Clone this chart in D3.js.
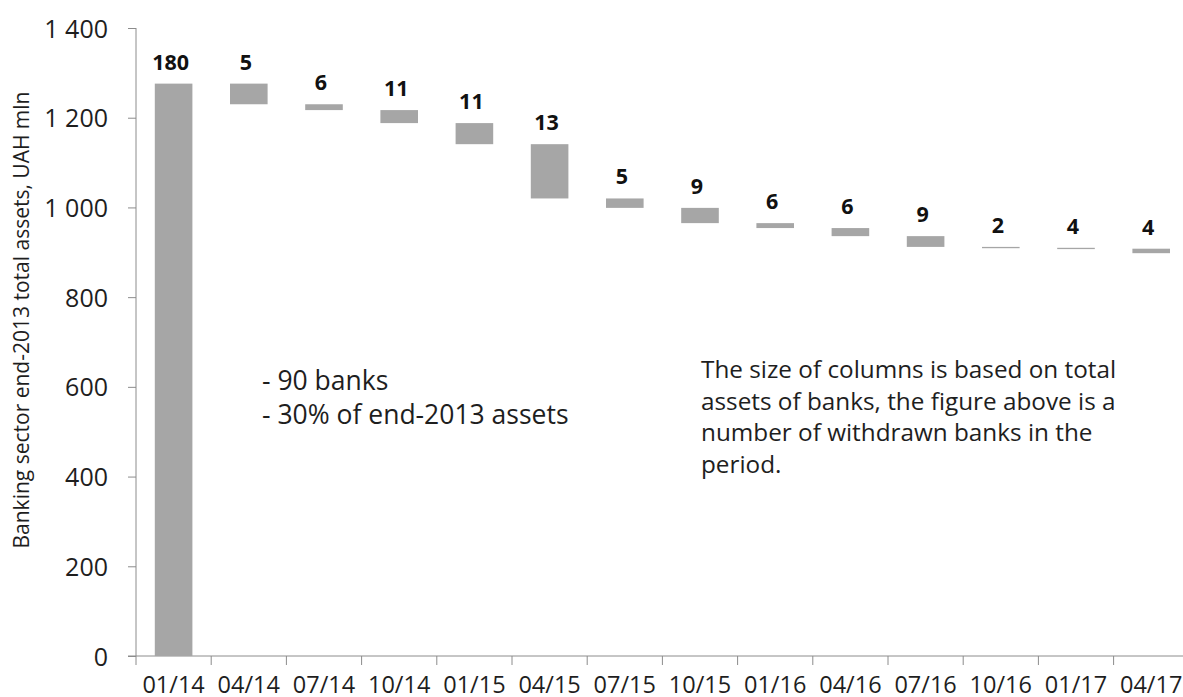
<!DOCTYPE html>
<html>
<head>
<meta charset="utf-8">
<title>Withdrawn banks, 2014-2017</title>
<script src="https://d3js.org/d3.v7.min.js"></script>
<style>
    body { margin: 0; background: #fff; }
    svg text { font-family: "Open Sans", "Noto Sans", sans-serif; fill: #1e1e1e; }
    .axis path, .axis line { stroke: #8c8c8c; }
</style>
</head>
<body>
<div id="chart"></div>
<script>
// quarters
var periods = ["01/14", "04/14", "07/14", "10/14", "01/15", "04/15", "07/15",
               "10/15", "01/16", "04/16", "07/16", "10/16", "01/17", "04/17"];
// assets left after each quarter, UAH mln (first one is the whole drop, from 0)
var assetLevels = [1276, 1230, 1217, 1188, 1141, 1020, 999, 965, 954, 936, 912, 910, 908, 898];
// number of withdrawn banks in the period
var bankCounts = [180, 5, 6, 11, 11, 13, 5, 9, 6, 6, 9, 2, 4, 4];
var yTicks = [0, 200, 400, 600, 800, 1000, 1200, 1400];

var noteLeft = ["- 90 banks", "- 30% of end-2013 assets"];
var noteRight = ["The size of columns is based on total",
                 "assets of banks, the figure above is a",
                 "number of withdrawn banks in the",
                 "period."];

var W = 1183, H = 697;
var plotLeft = 136, plotTop = 28, plotBottom = 656;
var band = 75.2;

var svg = d3.select("#chart").append("svg")
    .attr("width", W)
    .attr("height", H);

var x = d3.scaleBand()
    .domain(periods)
    .range([plotLeft, plotLeft + band * periods.length])
    .paddingInner(0.5)
    .paddingOuter(0.25);

var y = d3.scaleLinear()
    .domain([0, 1400])
    .range([plotBottom, plotTop]);

var bars = periods.map(function (p, i) {
    return {
        p: p,
        from: i == 0 ? 0 : assetLevels[i - 1],
        to: assetLevels[i],
        n: bankCounts[i]
    };
});

// y axis
var yAxis = d3.axisLeft(y)
    .tickValues(yTicks)
    .tickSize(8)
    .tickPadding(20)
    .tickFormat(function (d) { return d3.format(",")(d).replace(",", " "); });

var gy = svg.append("g")
    .attr("class", "axis")
    .attr("transform", "translate(" + plotLeft + ",0)")
    .call(yAxis);
gy.select(".domain").attr("d", "M0," + plotTop + "V" + plotBottom);
gy.selectAll(".tick line").attr("stroke", "#8c8c8c");
gy.selectAll("text")
    .style("font-size", "25px")
    .attr("dy", "0.36em");

// x axis: line plus ticks between quarters
var xEnd = x.range()[1];
svg.append("line")
    .attr("x1", plotLeft - 8).attr("x2", xEnd)
    .attr("y1", plotBottom).attr("y2", plotBottom)
    .attr("stroke", "#8c8c8c");

var edges = periods.map(function (p) { return x(p) - x.step() * 0.25; });
edges.push(xEnd);
svg.selectAll(".xtick")
    .data(edges)
    .enter().append("line")
    .attr("class", "xtick")
    .attr("x1", function (d) { return d; })
    .attr("x2", function (d) { return d; })
    .attr("y1", plotBottom)
    .attr("y2", plotBottom + 9)
    .attr("stroke", "#8c8c8c");

svg.selectAll(".xlab")
    .data(periods)
    .enter().append("text")
    .attr("class", "xlab")
    .attr("x", function (d) { return x(d) + x.bandwidth() / 2; })
    .attr("y", 693)
    .attr("text-anchor", "middle")
    .style("font-size", "23.5px")
    .text(function (d) { return d; });

// bars
svg.selectAll(".bar")
    .data(bars)
    .enter().append("rect")
    .attr("class", "bar")
    .attr("x", function (d) { return x(d.p); })
    .attr("width", x.bandwidth())
    .attr("y", function (d) { return y(Math.max(d.from, d.to)); })
    .attr("height", function (d) { return Math.max(1.3, Math.abs(y(d.from) - y(d.to))); })
    .attr("fill", "#a6a6a6");

// withdrawn banks above each bar
svg.selectAll(".count")
    .data(bars)
    .enter().append("text")
    .attr("class", "count")
    .attr("x", function (d) { return x(d.p) + x.bandwidth() / 2 - 3; })
    .attr("y", function (d) { return y(Math.max(d.from, d.to)) - 14; })
    .attr("text-anchor", "middle")
    .style("font-size", "21.5px")
    .style("font-weight", "bold")
    .style("fill", "#111")
    .text(function (d) { return d.n; });

// axis title
svg.append("text")
    .attr("transform", "translate(29,320) rotate(-90)")
    .attr("text-anchor", "middle")
    .style("font-size", "21px")
    .text("Banking sector end-2013 total assets, UAH mln");

// notes
svg.selectAll(".noteL")
    .data(noteLeft)
    .enter().append("text")
    .attr("class", "noteL")
    .attr("x", 262)
    .attr("y", function (d, i) { return 390 + i * 34; })
    .style("font-size", "26.5px")
    .text(function (d) { return d; });

svg.selectAll(".noteR")
    .data(noteRight)
    .enter().append("text")
    .attr("class", "noteR")
    .attr("x", 701)
    .attr("y", function (d, i) { return 378 + i * 31.5; })
    .style("font-size", "24.3px")
    .text(function (d) { return d; });
</script>
</body>
</html>
